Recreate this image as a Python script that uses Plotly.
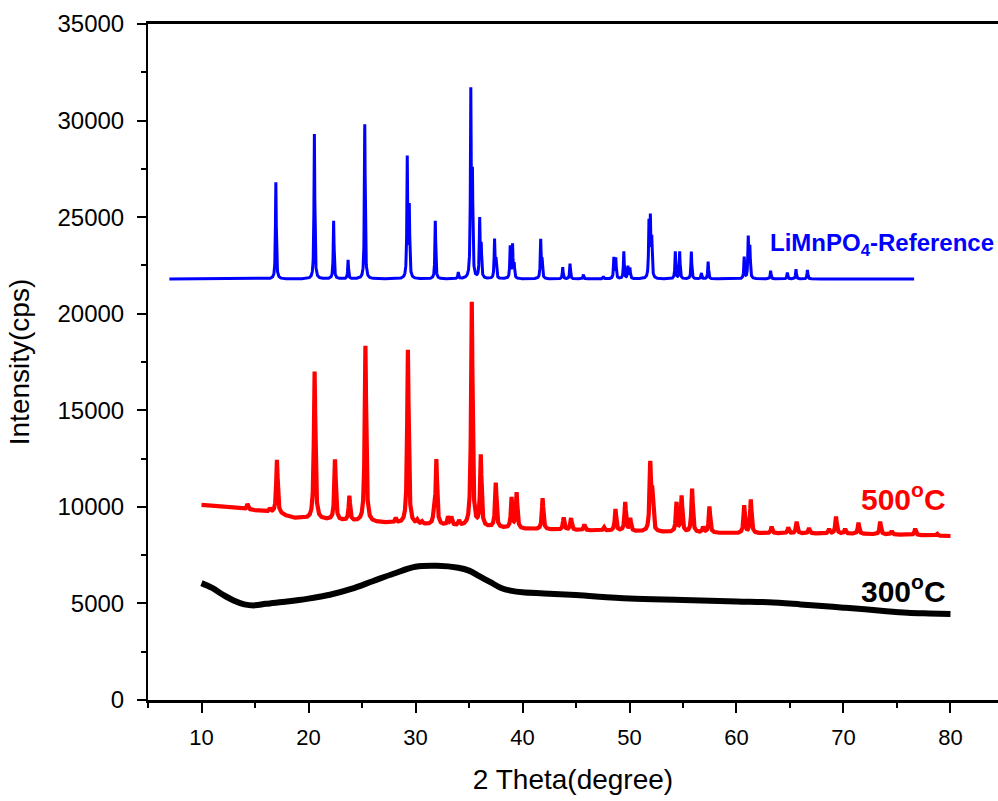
import numpy as np
import plotly.graph_objects as go

# ---------------- data ----------------
# LiMnPO4 reference pattern: flat background + sharp reflections (2theta, peak top in cps)
REF_RANGE = [7.0, 76.6]
REF_BASE = 21800
REF_PEAKS_POS = [16.95, 20.55, 22.35, 23.70, 25.26, 29.23, 29.42, 31.85, 34.00, 35.17,
                 35.32, 36.00, 36.14, 37.39, 37.52, 38.85, 39.07, 39.22, 41.70, 41.83,
                 43.76, 44.44, 45.69, 47.56, 48.54, 48.72, 49.47, 49.85, 50.04, 51.82,
                 51.95, 52.08, 54.28, 54.69, 55.78, 56.72, 57.35, 60.72, 61.10, 61.25,
                 63.19, 64.75, 65.56, 66.63]
REF_PEAKS_TOP = [26800, 29300, 24800, 22780, 29800, 28000, 25400, 24800, 22130, 31300,
                 26800, 24800, 23400, 23780, 22700, 23450, 23520, 22500, 23780, 22700,
                 22400, 22590, 22020, 21930, 22870, 22850, 23210, 22430, 22350, 24550,
                 24680, 23700, 23210, 23210, 23210, 22090, 22700, 22920, 23900, 23390,
                 22230, 22130, 22300, 22270]

# 500 C sample: sloping background knots and reflections
S500_BASE_X = [10, 12, 14, 16, 17.5, 18.5, 20, 22, 24, 26, 28, 30, 32, 34, 36, 38, 40,
               44, 48, 52, 56, 60, 65, 70, 75, 80]
S500_BASE_Y = [10100, 9980, 9880, 9760, 9600, 9420, 9380, 9320, 9250, 9200, 9150, 9090,
               9050, 9000, 8950, 8900, 8850, 8800, 8760, 8700, 8660, 8630, 8620, 8610,
               8560, 8490]
S500_PEAKS_POS = [14.30, 16.40, 17.05, 20.57, 22.48, 23.82, 25.32, 28.16, 29.29, 30.17,
                  30.60, 31.72, 31.95, 33.04, 33.35, 34.07, 35.26, 36.10, 37.50, 38.98,
                  39.45, 41.88, 43.85, 44.54, 45.78, 47.62, 48.69, 49.60, 50.07, 51.94,
                  52.12, 54.40, 54.87, 55.85, 56.88, 57.47, 60.72, 61.34, 63.28, 64.84,
                  65.62, 66.78, 68.65, 69.30, 70.15, 71.40, 73.43, 74.50, 76.70, 78.75]
S500_PEAKS_TOP = [10150, 9900, 12430, 17000, 12430, 10530, 18330, 9380, 18120, 9250,
                  9200, 9600, 12390, 9450, 9430, 9250, 20570, 12600, 11220, 10440,
                  10700, 10440, 9440, 9400, 9080, 8930, 9870, 10220, 9370, 12080,
                  10500, 10180, 10530, 10920, 8930, 10010, 10060, 10360, 8970, 8930,
                  9230, 8900, 8850, 9490, 8850, 9180, 9230, 8750, 8870, 8600]

# 300 C sample: broad amorphous profile
S300_X = [10, 11, 12, 13, 14, 15, 16, 18, 20, 22, 24, 26, 28, 30, 32, 34, 35, 36, 37,
          38, 39, 40, 42, 45, 50, 55, 60, 63, 66, 68, 70, 72, 74, 76, 78, 80]
S300_Y = [6050, 5800, 5450, 5150, 4950, 4900, 4980, 5100, 5250, 5450, 5750, 6150, 6550,
          6900, 6950, 6850, 6700, 6400, 6100, 5800, 5650, 5580, 5520, 5430, 5250, 5180,
          5100, 5060, 4950, 4870, 4780, 4700, 4600, 4520, 4480, 4450]


def lorentz_pattern(x, base, pos, top, fwhm):
    """Background plus Lorentzian reflections whose apex sits at the given tops."""
    hw = fwhm / 2.0
    y = np.array(base, dtype=float)
    for p, t in zip(pos, top):
        h = t - np.interp(p, x, base)
        y = y + h * hw ** 2 / ((x - p) ** 2 + hw ** 2)
    return y


step = 0.01
x_ref = np.arange(REF_RANGE[0], REF_RANGE[1] + step / 2, step)
y_ref = lorentz_pattern(x_ref, np.full_like(x_ref, REF_BASE), REF_PEAKS_POS, REF_PEAKS_TOP, 0.09)

x_500 = np.arange(S500_BASE_X[0], S500_BASE_X[-1] + step / 2, step)
base_500 = np.interp(x_500, S500_BASE_X, S500_BASE_Y)
y_500 = lorentz_pattern(x_500, base_500, S500_PEAKS_POS, S500_PEAKS_TOP, 0.16)

fig = go.Figure()
fig.add_trace(go.Scatter(x=S300_X, y=S300_Y, mode="lines", line=dict(color="black", width=6, shape="spline"),
                         showlegend=False, hoverinfo="skip"))
fig.add_trace(go.Scatter(x=x_500, y=y_500, mode="lines", line=dict(color="#ff0000", width=4.2),
                         showlegend=False, hoverinfo="skip"))
fig.add_trace(go.Scatter(x=x_ref, y=y_ref, mode="lines", line=dict(color="#0000ff", width=3),
                         showlegend=False, hoverinfo="skip"))

FONT = "Liberation Sans, Arial, sans-serif"

fig.add_annotation(x=62.9, y=23600, xanchor="left", yanchor="middle", showarrow=False,
                   text="<b>LiMnPO<sub>4</sub>-Reference</b>",
                   font=dict(family=FONT, size=24, color="#0000ff"))
fig.add_annotation(x=79.8, y=10500, xanchor="right", yanchor="middle", showarrow=False,
                   text="<b>500<sup>o</sup>C</b>",
                   font=dict(family=FONT, size=30, color="#ff0000"))
fig.add_annotation(x=79.8, y=5750, xanchor="right", yanchor="middle", showarrow=False,
                   text="<b>300<sup>o</sup>C</b>",
                   font=dict(family=FONT, size=30, color="black"))

fig.update_layout(
    width=998, height=801,
    margin=dict(l=148, r=0, t=24, b=101),
    paper_bgcolor="white", plot_bgcolor="white",
    font=dict(family=FONT, color="black"),
)
fig.update_xaxes(
    range=[5, 84.44], dtick=10, tick0=0,
    showgrid=False, zeroline=False,
    showline=True, linecolor="black", linewidth=2.5, mirror=True,
    ticks="outside", ticklen=10, tickwidth=2, tickcolor="black",
    minor=dict(dtick=5, tick0=0, ticks="outside", ticklen=5, tickwidth=2, tickcolor="black"),
    tickfont=dict(size=22), ticklabelstandoff=6,
    title=dict(text="2 Theta(degree)", font=dict(size=28), standoff=21),
)
fig.update_yaxes(
    range=[0, 35000], dtick=5000, tick0=0, tickformat="d",
    showgrid=False, zeroline=False,
    showline=True, linecolor="black", linewidth=2,
    ticks="outside", ticklen=9, tickwidth=2, tickcolor="black",
    minor=dict(dtick=2500, tick0=0, ticks="outside", ticklen=5, tickwidth=2, tickcolor="black"),
    tickfont=dict(size=24), ticklabelstandoff=8,
    title=dict(text="Intensity(cps)", font=dict(size=28), standoff=20),
)

fig.write_html("out.html")
